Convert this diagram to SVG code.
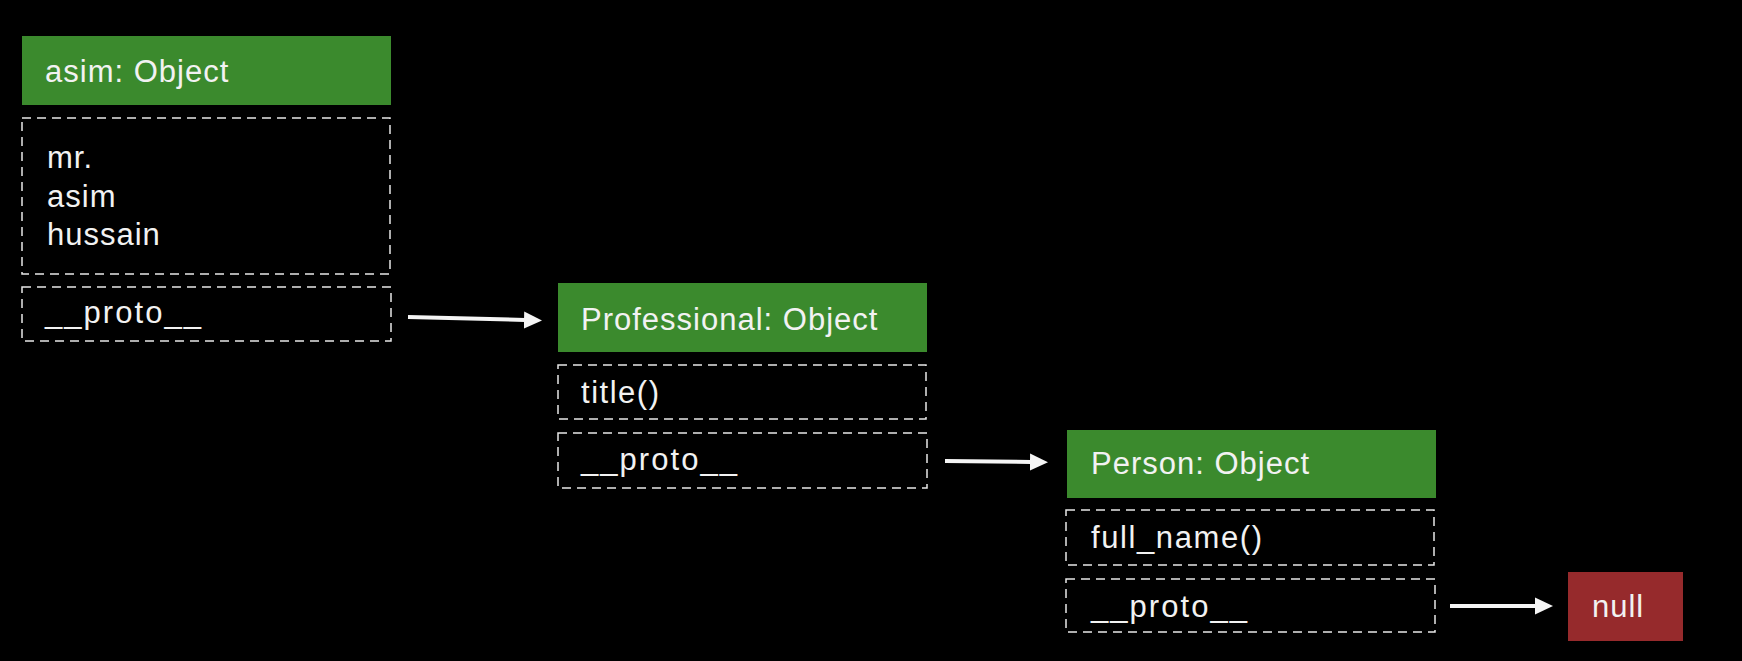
<svg xmlns="http://www.w3.org/2000/svg" width="1742" height="661" viewBox="0 0 1742 661">
  <defs>
    <style>
      .hdr { fill: #3b8a2d; }
      .nul { fill: #962a2c; }
      .box { fill: none; stroke: #e8e8e8; stroke-width: 1.5; stroke-dasharray: 9 6; }
      .t { font-family: "Liberation Sans", Arial, sans-serif; font-size: 31px; letter-spacing: 1px; fill: #f2f2f2; }
      .conn { stroke: #f5f5f5; stroke-width: 4; fill: none; marker-end: url(#ah); }
    </style>
    <marker id="ah" markerUnits="userSpaceOnUse" markerWidth="19" markerHeight="18" refX="1" refY="9" orient="auto">
      <path d="M0,0.5 L18,9 L0,17.5 z" fill="#f5f5f5"/>
    </marker>
  </defs>
  <rect width="1742" height="661" fill="#000"/>

  <g id="asim">
    <rect class="hdr" x="22" y="36" width="369" height="69"/>
    <text class="t" x="45" y="82">asim: Object</text>
    <rect class="box" x="22" y="118" width="368" height="156"/>
    <text class="t" x="47" y="168">mr.</text>
    <text class="t" x="47" y="207">asim</text>
    <text class="t" x="47" y="245">hussain</text>
    <rect class="box" x="22" y="287" width="369" height="54"/>
    <text class="t" x="45" y="323" textLength="157">__proto__</text>
  </g>

  <g id="professional">
    <rect class="hdr" x="558" y="283" width="369" height="69"/>
    <text class="t" x="581" y="330">Professional: Object</text>
    <rect class="box" x="558" y="365" width="368" height="54"/>
    <text class="t" x="581" y="403" textLength="79">title()</text>
    <rect class="box" x="558" y="433" width="369" height="55"/>
    <text class="t" x="581" y="470" textLength="157">__proto__</text>
  </g>

  <g id="person">
    <rect class="hdr" x="1067" y="430" width="369" height="68"/>
    <text class="t" x="1091" y="474">Person: Object</text>
    <rect class="box" x="1066" y="510" width="368" height="55"/>
    <text class="t" x="1091" y="548" textLength="172">full_name()</text>
    <rect class="box" x="1066" y="579" width="369" height="53"/>
    <text class="t" x="1091" y="617" textLength="157">__proto__</text>
  </g>

  <g id="null">
    <rect class="nul" x="1568" y="572" width="115" height="69"/>
    <text class="t" x="1592" y="617">null</text>
  </g>

  <g id="connectors">
    <line class="conn" x1="408" y1="317" x2="525" y2="320"/>
    <line class="conn" x1="945" y1="461" x2="1031" y2="462"/>
    <line class="conn" x1="1450" y1="606" x2="1536" y2="606"/>
  </g>
</svg>
